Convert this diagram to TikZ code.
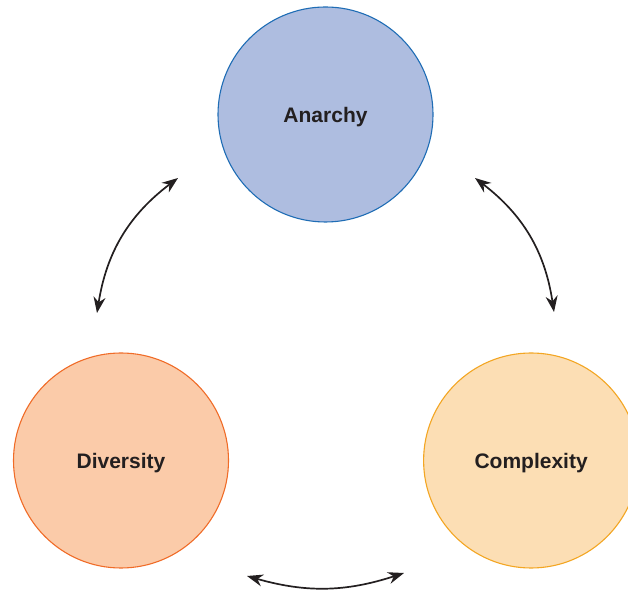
\documentclass[tikz,border=0pt]{standalone}
\usepackage{fontspec}
\setmainfont{Liberation Sans}
\usepackage{tikz}
\usetikzlibrary{arrows.meta, positioning}
\definecolor{anarchy_f}{RGB}{174, 189, 224}
\definecolor{anarchy_d}{RGB}{31, 109, 181}
\definecolor{diversity_f}{RGB}{251, 203, 169}
\definecolor{diversity_d}{RGB}{240, 108, 40}
\definecolor{complexity_f}{RGB}{252, 222, 180}
\definecolor{complexity_d}{RGB}{243, 166, 35}
\definecolor{labeltext}{RGB}{35, 31, 32}
\tikzstyle{idea} = [circle, minimum size=215pt, inner sep=0pt, line width=1.1pt, text=labeltext, text depth=0pt, font=\fontsize{21}{25}\selectfont\bfseries]
\tikzstyle{link} = [line width=1.7pt, {Stealth[length=16pt,width=12pt]}-{Stealth[length=16pt,width=12pt]}, draw=labeltext]

\begin{document}
\begin{tikzpicture}[x=1pt, y=1pt]
\useasboundingbox (0,0) rectangle (628,596);

% Circles
\node[idea, draw=anarchy_d, fill=anarchy_f] (anarchy) at (325.5,481.5) {Anarchy};
\node[idea, draw=diversity_d, fill=diversity_f] (diversity) at (121,135.5) {Diversity};
\node[idea, draw=complexity_d, fill=complexity_f, right=194pt of diversity] (complexity) {Complexity};

% Arrow ends
\coordinate (ad1) at (97,283);
\coordinate (ad2) at (178,418);
\coordinate (ac1) at (475,418);
\coordinate (ac2) at (554,284);
\coordinate (dc1) at (404,23);
\coordinate (dc2) at (247,20);

% Arrows
\draw[link] (ad1) to[bend left=22] (ad2);
\draw[link] (ac1) to[bend left=22] (ac2);
\draw[link] (dc1) to[bend left=17] (dc2);

\end{tikzpicture}
\end{document}
